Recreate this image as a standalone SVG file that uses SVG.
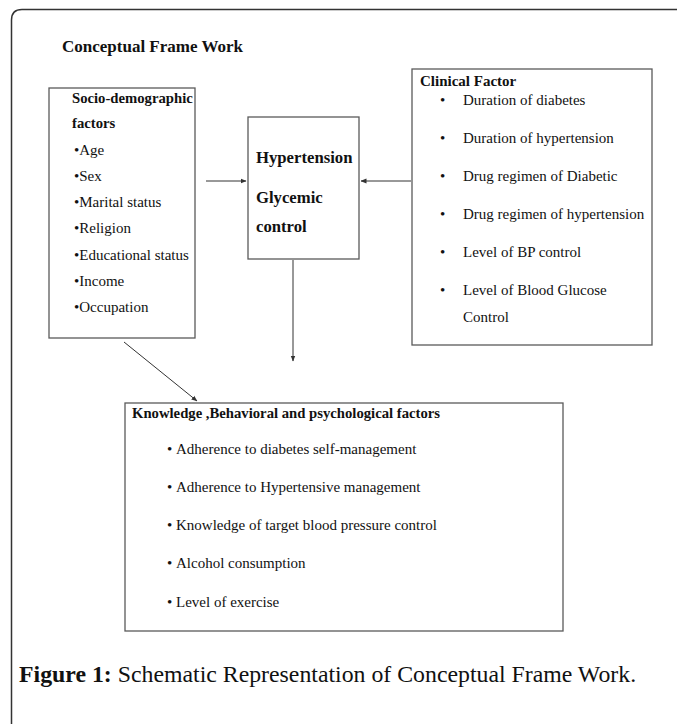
<svg xmlns="http://www.w3.org/2000/svg" width="677" height="724" viewBox="0 0 677 724">
<style>
.box{fill:#fff;stroke:#5a5a5a;stroke-width:1.3}
.t{font-family:"Liberation Serif","Times New Roman",serif;font-size:15px;fill:#111}
.b{font-weight:bold}
.c{font-family:"Liberation Serif","Times New Roman",serif;font-size:16.7px;font-weight:bold;fill:#111}
.conn{stroke:#333;stroke-width:1;fill:none}
</style>
<defs>
<marker id="ah" viewBox="0 0 6 6" refX="5.5" refY="3" markerWidth="6" markerHeight="6" markerUnits="userSpaceOnUse" orient="auto">
<path d="M0,0.6 L6,3 L0,5.4 Z" fill="#333"/>
</marker>
</defs>
<rect width="677" height="724" fill="#fff"/>
<path d="M11.5,724 L11.5,20 Q11.5,9.5 22,9.5 L677,9.5" fill="none" stroke="#333" stroke-width="1.5"/>
<text class="t b" x="62" y="52" style="font-size:17px">Conceptual Frame Work</text>

<g id="socio">
<rect class="box" x="49" y="88" width="146" height="250"/>
<text class="t b" x="72" y="103" style="font-size:14.7px">Socio-demographic</text>
<text class="t b" x="72" y="128" style="font-size:14.7px">factors</text>
<text class="t" x="74" y="155">•Age</text>
<text class="t" x="74" y="181">•Sex</text>
<text class="t" x="74" y="207">•Marital status</text>
<text class="t" x="74" y="233">•Religion</text>
<text class="t" x="74" y="260">•Educational status</text>
<text class="t" x="74" y="286">•Income</text>
<text class="t" x="74" y="312">•Occupation</text>
</g>

<g id="center">
<rect class="box" x="248" y="117" width="111" height="142"/>
<text class="c" x="256" y="163">Hypertension</text>
<text class="c" x="256" y="203">Glycemic</text>
<text class="c" x="256" y="232">control</text>
</g>

<g id="clinical">
<rect class="box" x="412" y="69" width="240" height="276"/>
<text class="t b" x="420" y="86">Clinical Factor</text>
<g class="t">
<text x="440" y="105">•</text><text x="463" y="105">Duration of diabetes</text>
<text x="440" y="143">•</text><text x="463" y="143">Duration of hypertension</text>
<text x="440" y="181">•</text><text x="463" y="181">Drug regimen of Diabetic</text>
<text x="440" y="219">•</text><text x="463" y="219">Drug regimen of hypertension</text>
<text x="440" y="257">•</text><text x="463" y="257">Level of BP control</text>
<text x="440" y="295">•</text><text x="463" y="295">Level of Blood Glucose</text>
<text x="463" y="322">Control</text>
</g>
</g>

<g id="knowledge">
<rect class="box" x="125" y="403" width="438" height="228"/>
<text class="t b" x="132" y="418" style="font-size:14.7px">Knowledge ,Behavioral and psychological factors</text>
<g class="t">
<text x="167" y="454">•</text><text x="176" y="454">Adherence to diabetes self-management</text>
<text x="167" y="492">•</text><text x="176" y="492">Adherence to Hypertensive management</text>
<text x="167" y="530">•</text><text x="176" y="530">Knowledge of target blood pressure control</text>
<text x="167" y="568">•</text><text x="176" y="568">Alcohol consumption</text>
<text x="167" y="607">•</text><text x="176" y="607">Level of exercise</text>
</g>
</g>

<g id="connectors">
<line class="conn" x1="206" y1="181" x2="246" y2="181" marker-end="url(#ah)"/>
<line class="conn" x1="411" y1="181" x2="361" y2="181" marker-end="url(#ah)"/>
<line class="conn" x1="293" y1="260" x2="293" y2="361" marker-end="url(#ah)"/>
<line class="conn" x1="124" y1="342" x2="197" y2="401" marker-end="url(#ah)"/>
</g>

<text x="19" y="682" style="font-family:'Liberation Serif','Times New Roman',serif;font-size:23.8px;fill:#111"><tspan font-weight="bold">Figure 1:</tspan> Schematic Representation of Conceptual Frame Work.</text>
</svg>
